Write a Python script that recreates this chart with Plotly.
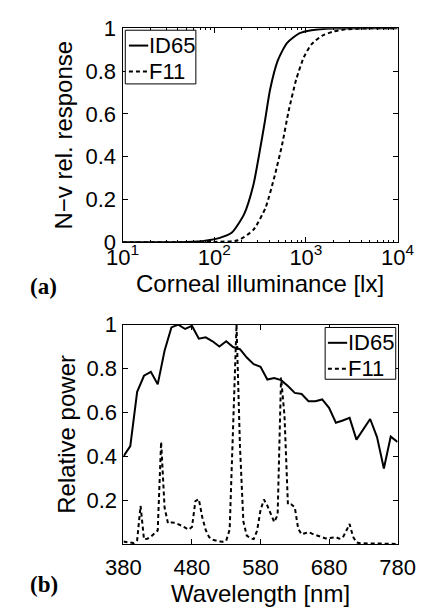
import plotly.graph_objects as go

# ---- Panel (a): N-v relative response vs corneal illuminance ----
lux_id65 = [10, 30, 50, 80, 115, 156, 212, 267, 311, 357, 407, 493, 621, 845, 1150, 2000, 10000]
resp_id65 = [0.0, 0.0, 0.001, 0.007, 0.02, 0.045, 0.131, 0.266, 0.416, 0.565, 0.714, 0.849, 0.931, 0.976, 0.991, 0.999, 1.0]
lux_f11 = [10, 50, 100, 182, 267, 363, 457, 553, 646, 782, 948, 1150, 1500, 2000, 2700, 5000, 10000]
resp_f11 = [0.0, 0.0, 0.001, 0.009, 0.057, 0.161, 0.311, 0.46, 0.61, 0.759, 0.864, 0.925, 0.965, 0.985, 0.995, 1.0, 1.0]
lux_ticks = [10, 100, 1000, 10000]
lux_ticktext = ["10<sup>1</sup>", "10<sup>2</sup>", "10<sup>3</sup>", "10<sup>4</sup>"]
lux_minor = [m * d for d in (10, 100, 1000) for m in range(2, 10)]

# ---- Panel (b): relative spectral power ----
wl_id65 = list(range(380, 781, 10))
pow_id65 = [0.40, 0.447, 0.694, 0.767, 0.785, 0.728, 0.881, 0.987, 1.0, 0.98,
            0.994, 0.936, 0.942, 0.924, 0.90, 0.924, 0.898, 0.888, 0.85, 0.82,
            0.808, 0.75, 0.757, 0.747, 0.72, 0.689, 0.684, 0.651, 0.651, 0.659,
            0.621, 0.553, 0.563, 0.575, 0.476, 0.524, 0.57, 0.488, 0.345, 0.49, 0.466]
wl_f11 = list(range(380, 781, 5))
pow_f11 = [0.012, 0.009, 0.006, 0.005, 0.018, 0.174, 0.022, 0.025, 0.034, 0.046,
           0.062, 0.466, 0.167, 0.095, 0.099, 0.098, 0.092, 0.084, 0.075, 0.066,
           0.078, 0.196, 0.205, 0.123, 0.065, 0.032, 0.020, 0.015, 0.012, 0.011,
           0.016, 0.067, 0.544, 1.0, 0.448, 0.103, 0.039, 0.027, 0.023, 0.061,
           0.155, 0.203, 0.175, 0.134, 0.101, 0.133, 0.759, 0.585, 0.181, 0.181,
           0.168, 0.070, 0.045, 0.050, 0.055, 0.048, 0.042, 0.036, 0.030, 0.026,
           0.028, 0.030, 0.032, 0.025, 0.030, 0.060, 0.092, 0.034, 0.008, 0.004,
           0.003, 0.003, 0.003, 0.003, 0.003, 0.003, 0.004, 0.004, 0.002, 0.002, 0.001]
wl_ticks = [380, 480, 580, 680, 780]
pow_ticks = [0.2, 0.4, 0.6, 0.8, 1]
resp_ticks = [0, 0.2, 0.4, 0.6, 0.8, 1]
legend_names = ["ID65", "F11"]

W, H = 433, 608
FONT = "Liberation Sans, Arial, Helvetica, sans-serif"
TICK_SIZE = 22
TITLE_SIZE = 24
LEG_SIZE = 22
DASH = "4px,3px"

fig = go.Figure()
fig.add_trace(go.Scatter(x=lux_id65, y=resp_id65, mode="lines", name=legend_names[0],
                         line=dict(color="black", width=2, shape="spline", smoothing=0.6),
                         xaxis="x", yaxis="y"))
fig.add_trace(go.Scatter(x=lux_f11, y=resp_f11, mode="lines", name=legend_names[1],
                         line=dict(color="black", width=2, dash=DASH, shape="spline", smoothing=0.6),
                         xaxis="x", yaxis="y"))
fig.add_trace(go.Scatter(x=wl_id65, y=pow_id65, mode="lines", name=legend_names[0],
                         line=dict(color="black", width=2),
                         xaxis="x2", yaxis="y2"))
fig.add_trace(go.Scatter(x=wl_f11, y=pow_f11, mode="lines", name=legend_names[1],
                         line=dict(color="black", width=2, dash=DASH),
                         xaxis="x2", yaxis="y2"))

ax_common = dict(showline=True, linecolor="black", linewidth=1, mirror="ticks",
                 ticks="inside", ticklen=5, tickcolor="black", showgrid=False,
                 zeroline=False, tickfont=dict(family=FONT, size=TICK_SIZE, color="black"))

fig.update_layout(
    width=W, height=H, margin=dict(l=0, r=0, t=0, b=0),
    paper_bgcolor="white", plot_bgcolor="white",
    font=dict(family=FONT, size=TICK_SIZE, color="black"),
    showlegend=False,
    xaxis=dict(type="log", range=[1, 4], domain=[114/W, 414/W], anchor="y",
               tickvals=lux_ticks, ticktext=lux_ticktext, ticklabelstandoff=-5,
               minor=dict(tickvals=lux_minor, ticks="inside", ticklen=2, tickcolor="black", showgrid=False),
               title=dict(text="Corneal illuminance [lx]", font=dict(family=FONT, size=TITLE_SIZE), standoff=0),
               **ax_common),
    yaxis=dict(range=[0, 1], domain=[1 - 240/H, 1 - 17/H], anchor="x",
               tickvals=resp_ticks, ticktext=[f"{v:g}" for v in resp_ticks], ticklabelstandoff=1,
               title=dict(text="N\u2212v rel. response", font=dict(family=FONT, size=TITLE_SIZE), standoff=6),
               **ax_common),
    xaxis2=dict(range=[380, 780], domain=[115/W, 414/W], anchor="y2",
                tickvals=wl_ticks, ticklabelstandoff=3,
                title=dict(text="Wavelength [nm]", font=dict(family=FONT, size=TITLE_SIZE), standoff=0),
                **ax_common),
    yaxis2=dict(range=[0, 1], domain=[1 - 555/H, 1 - 326/H], anchor="x2",
                tickvals=pow_ticks, ticktext=[f"{v:g}" for v in pow_ticks], ticklabelstandoff=1,
                title=dict(text="Relative power", font=dict(family=FONT, size=TITLE_SIZE), standoff=4),
                **ax_common),
)

# Legend boxes (MATLAB style: short sample line, boxed)
def add_legend(box, rows, line_x, text_x):
    x0, y0, x1, y1 = box
    fig.add_shape(type="rect", xref="paper", yref="paper",
                  x0=x0/W, x1=x1/W, y0=1 - y1/H, y1=1 - y0/H,
                  line=dict(color="black", width=1), fillcolor="white", layer="above")
    for name, ry, dash in zip(legend_names, rows, ["solid", DASH]):
        fig.add_shape(type="line", xref="paper", yref="paper",
                      x0=line_x[0]/W, x1=line_x[1]/W, y0=1 - ry/H, y1=1 - ry/H,
                      line=dict(color="black", width=2, dash=dash), layer="above")
        fig.add_annotation(text=name, x=text_x/W, y=1 - ry/H, xref="paper", yref="paper",
                           xanchor="left", yanchor="middle", showarrow=False,
                           font=dict(family=FONT, size=LEG_SIZE, color="black"))

add_legend((117, 19, 194, 75), (35, 62), (121, 142), 141)
add_legend((335, 329, 412, 383), (345, 372), (338, 359), 358)

fig.add_annotation(text="<b>(a)</b>", x=11/W, y=1 - 286/H, xref="paper", yref="paper",
                   xanchor="left", yanchor="middle", showarrow=False,
                   font=dict(family="Liberation Serif, Times New Roman, serif", size=23, color="black"))
fig.add_annotation(text="<b>(b)</b>", x=11/W, y=1 - 597/H, xref="paper", yref="paper",
                   xanchor="left", yanchor="middle", showarrow=False,
                   font=dict(family="Liberation Serif, Times New Roman, serif", size=23, color="black"))

fig.write_html("out.html")
